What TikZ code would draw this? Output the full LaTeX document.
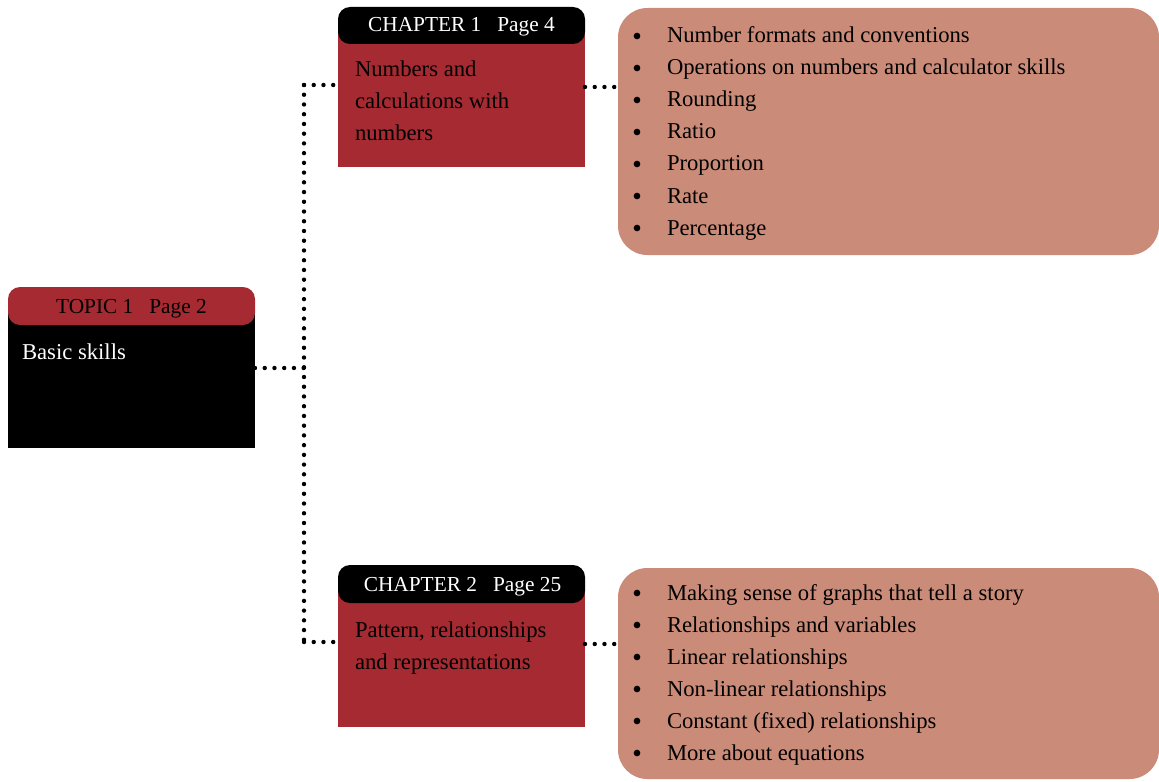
\documentclass[tikz,border=0pt]{standalone}
\usepackage{fontspec}
\setmainfont{Liberation Serif}
\usetikzlibrary{calc}
\definecolor{bred}{RGB}{166,42,50}
\definecolor{salmon}{RGB}{203,139,121}
\begin{document}
\begin{tikzpicture}[x=0.75pt,y=-0.75pt,
  box/.style={draw=none, inner sep=0pt, outer sep=0pt, anchor=north west},
  hdr/.style={box, rounded corners=9pt},
  listbox/.style={box, fill=salmon, rounded corners=22pt, minimum width=405.75pt},
  txt/.style={inner sep=0pt, outer sep=0pt, font=\fontsize{17pt}{24pt}\selectfont},
  hdrtxt/.style={inner sep=0pt, outer sep=0pt, anchor=base, font=\fontsize{16pt}{24pt}\selectfont},
  dots/.style={line width=3.3pt, line cap=round, dash pattern=on 0pt off 7.3pt},
  bul/.style={circle, fill=black, draw=none, inner sep=0pt, minimum size=5pt},
  item/.style={txt, anchor=base west, text=black}]
\useasboundingbox (0,0) rectangle (1159,781);

% Topic
\node[box, fill=black, minimum width=185.25pt, minimum height=103.5pt] (tb) at (8,310) {};
\node[hdr, fill=bred, minimum width=185.25pt, minimum height=28.5pt] (th) at (8,287) {};
\node[hdrtxt, text=black] (tht) at (131.5,313) {TOPIC 1\hspace{12pt}Page 2};
\node[item, text=white] (tbt) at (22,359) {Basic skills};

% Chapter 1
\node[box, fill=bred, minimum width=185.25pt, minimum height=102.75pt] (c1b) at (338,30) {};
\node[hdr, fill=black, minimum width=185.25pt, minimum height=27.75pt] (c1h) at (338,7) {};
\node[hdrtxt, text=white] (c1ht) at (461.5,32) {CHAPTER 1\hspace{12pt}Page 4};
\node[item] (c1t1) at (355,77) {Numbers and};
\node[item] (c1t2) at (355,109) {calculations with};
\node[item] (c1t3) at (355,141) {numbers};

% Chapter 2
\node[box, fill=bred, minimum width=185.25pt, minimum height=104.25pt] (c2b) at (338,588) {};
\node[hdr, fill=black, minimum width=185.25pt, minimum height=28.5pt] (c2h) at (338,565) {};
\node[hdrtxt, text=white] (c2ht) at (462.5,591) {CHAPTER 2\hspace{12pt}Page 25};
\node[item] (c2t1) at (355,637) {Pattern, relationships};
\node[item] (c2t2) at (355,669) {and representations};

% Lists
\node[listbox, minimum height=185.25pt] (l1) at (618,8) {};
\node[listbox, minimum height=158.25pt] (l2) at (618,568) {};

\foreach \t [count=\i] in {Number formats and conventions, Operations on numbers and calculator skills, Rounding, Ratio, Proportion, Rate, Percentage} {
  \node[bul] (ba\i) at (637,{36+32*(\i-1)}) {};
  \node[item] (ia\i) at (667,{43+32*(\i-1)}) {\t};
}
\foreach \t [count=\i] in {Making sense of graphs that tell a story, Relationships and variables, Linear relationships, Non-linear relationships, Constant (fixed) relationships, More about equations} {
  \node[bul] (bb\i) at (637,{593+32*(\i-1)}) {};
  \node[item] (ib\i) at (667,{600+32*(\i-1)}) {\t};
}

% Connectors
\coordinate (jt) at (304,85);
\coordinate (jm) at (304,368);
\coordinate (jb) at (304,642);
\draw[dots] (jt) -- (jb);
\draw[dots] ($(tb.north east)+(0,58)$) -- (jm);
\draw[dots] (jt) -- ($(c1b.north west)+(0,55)$);
\draw[dots] (jb) -- ($(c2b.north west)+(0,54)$);
\draw[dots] ($(c1b.north east)+(0,57)$) -- ($(l1.north west)+(0,79)$);
\draw[dots] ($(c2b.north east)+(0,56)$) -- ($(l2.north west)+(0,76)$);
\end{tikzpicture}
\end{document}
